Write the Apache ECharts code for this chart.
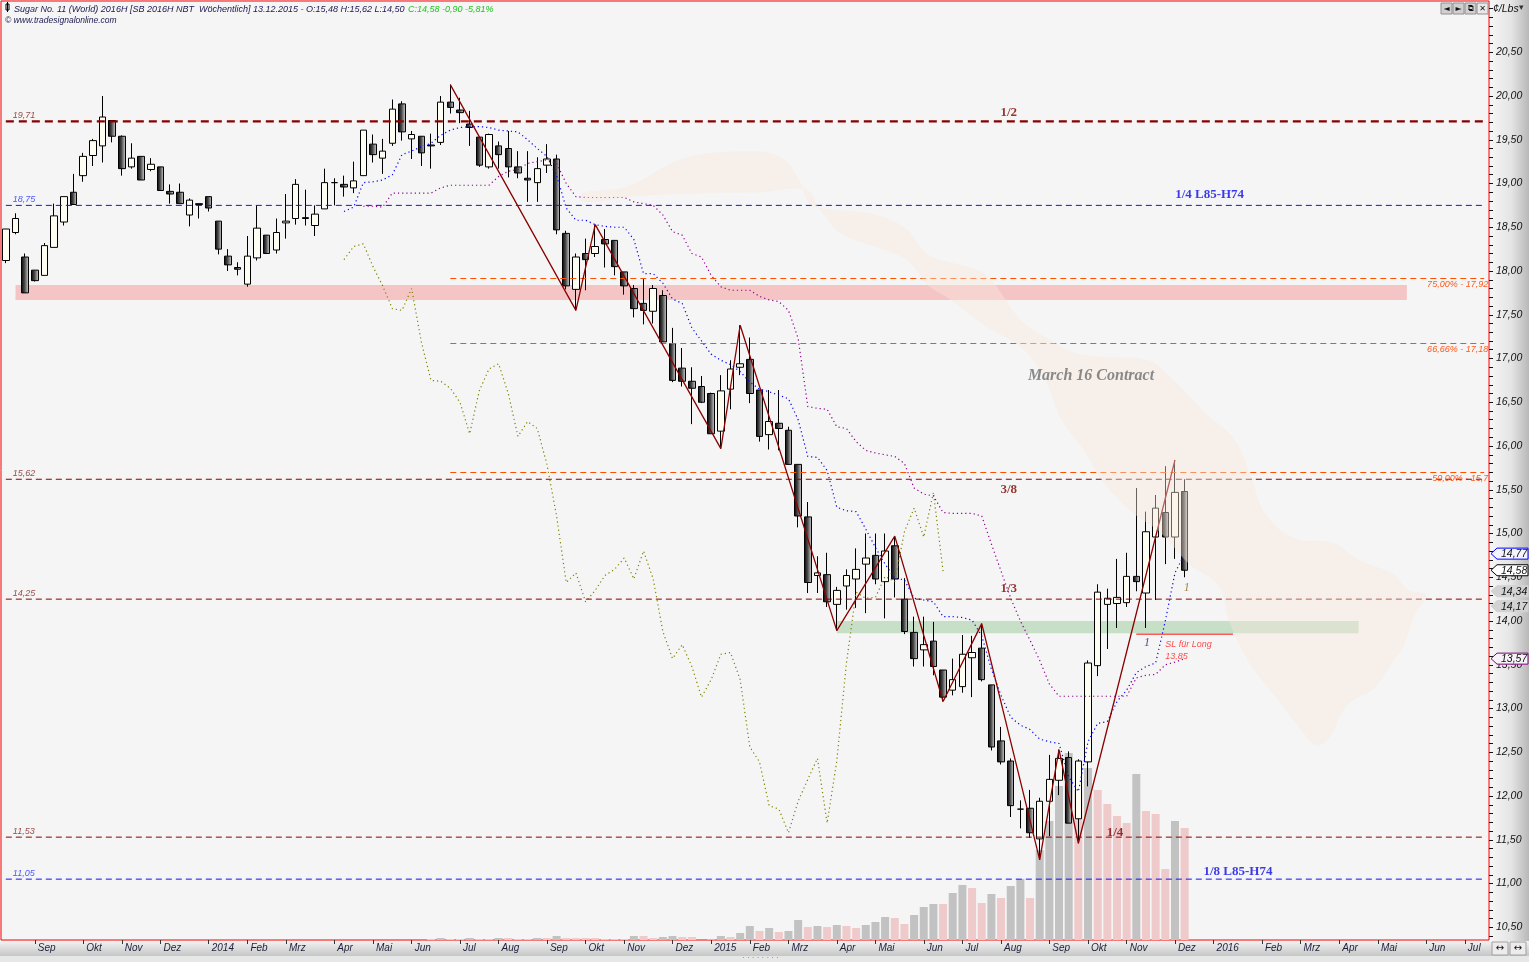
<!DOCTYPE html>
<html><head><meta charset="utf-8">
<script src="https://cdn.jsdelivr.net/npm/echarts@6/dist/echarts.min.js"></script>
<style>html,body{margin:0;padding:0;background:#f0f0f0;}#c{width:1529px;height:962px;}</style>
</head><body><div id="c"></div>
<script>
// ---------- DATA ----------
const firstWeek = '2013-08-11';       // first weekly bar (week ending Sunday)
const weekSlots = 154;                // visible weekly slots on the axis
const monthAbbr = ['Jan','Feb','Mrz','Apr','Mai','Jun','Jul','Aug','Sep','Okt','Nov','Dez'];

const opens = [18.12,18.44,18.16,18.01,17.95,18.27,18.56,18.90,19.09,19.32,19.43,19.72,19.54,19.19,19.31,19.16,19.19,18.91,18.90,18.64,18.76,18.85,18.57,18.17,18.04,17.85,18.15,18.41,18.24,18.55,18.60,18.61,18.52,18.71,19.01,18.99,18.95,19.09,19.45,19.29,19.46,19.91,19.51,19.54,19.44,19.47,19.93,19.84,19.68,19.53,19.19,19.43,19.40,19.19,19.06,19.01,19.21,19.28,18.43,17.79,18.20,18.20,18.36,18.35,17.99,17.80,17.63,17.54,17.72,17.17,16.89,16.74,16.68,16.60,16.17,16.65,16.90,16.99,16.64,16.13,16.26,16.18,15.79,15.19,14.52,14.53,14.19,14.40,14.48,14.65,14.75,14.45,14.86,14.25,13.87,13.67,13.77,13.44,13.21,13.25,13.58,13.69,13.27,12.63,12.40,11.85,11.86,11.51,11.94,12.18,12.44,11.74,12.39,13.49,14.19,14.20,14.21,14.51,14.32,14.96,15.24,14.96,15.48];
const highs = [18.48,18.66,18.20,18.01,18.32,18.77,18.85,19.11,19.35,19.51,20.00,19.72,19.55,19.46,19.31,19.29,19.19,18.99,19.00,18.83,18.77,18.85,18.57,18.25,18.10,18.40,18.75,18.41,18.60,18.88,19.05,18.93,18.75,19.17,19.06,19.09,19.25,19.61,19.56,19.51,19.96,19.94,19.60,19.54,19.57,20.00,20.13,19.98,19.83,19.53,19.57,19.48,19.60,19.37,19.37,19.30,19.45,19.33,18.46,18.20,18.37,18.53,18.48,18.35,17.99,17.84,17.92,17.84,17.78,17.35,17.12,16.90,16.80,16.61,16.81,16.98,17.38,17.24,16.64,16.64,16.64,16.22,15.79,15.36,14.74,14.78,14.39,14.59,14.83,15.00,15.00,15.00,14.97,14.49,14.05,14.05,13.99,13.44,13.57,13.84,13.83,13.97,13.27,12.79,12.43,11.95,12.07,11.98,12.47,12.53,12.51,12.42,13.55,14.42,14.37,14.71,14.78,15.52,15.25,15.44,15.77,15.84,15.62];
const lows = [18.09,18.42,17.75,17.88,17.95,18.27,18.52,18.76,19.02,19.20,19.24,19.47,19.09,19.17,19.04,19.14,18.92,18.77,18.77,18.51,18.60,18.68,18.19,18.00,17.95,17.82,18.12,18.20,18.20,18.37,18.53,18.52,18.40,18.71,18.75,18.85,18.89,19.09,19.24,19.11,19.43,19.49,19.28,19.20,19.17,19.44,19.80,19.69,19.43,19.19,19.17,19.17,19.07,19.06,18.79,18.79,19.12,18.42,17.79,17.55,17.78,18.16,18.04,17.95,17.73,17.47,17.39,17.40,17.19,16.73,16.68,16.25,16.49,16.14,15.97,16.42,16.81,16.49,16.05,15.96,15.95,15.79,15.07,14.32,14.32,14.16,13.89,14.13,14.15,14.09,14.42,14.03,14.27,13.85,13.48,13.48,13.38,13.08,13.15,13.18,13.13,13.31,12.52,12.36,11.76,11.63,11.52,11.27,11.54,12.01,11.69,11.46,12.11,13.37,13.68,13.92,14.16,14.34,13.92,14.24,14.65,14.71,14.50];
const closes = [18.48,18.60,17.75,17.89,18.29,18.63,18.85,18.76,19.31,19.49,19.76,19.54,19.17,19.29,19.04,19.22,18.92,18.88,18.77,18.81,18.77,18.72,18.25,18.07,18.02,18.17,18.49,18.20,18.44,18.57,18.99,18.60,18.65,19.01,19.01,18.96,19.03,19.61,19.33,19.37,19.85,19.59,19.56,19.35,19.43,19.93,19.87,19.81,19.64,19.21,19.56,19.33,19.19,19.12,19.04,19.17,19.28,18.47,17.83,18.16,18.13,18.28,18.31,18.05,17.83,17.57,17.55,17.80,17.19,16.75,16.74,16.66,16.50,16.14,16.63,16.88,16.94,16.60,16.11,16.28,16.20,15.79,15.20,14.44,14.55,14.22,14.35,14.52,14.59,14.72,14.48,14.80,14.48,13.88,13.57,13.73,13.48,13.13,13.33,13.62,13.64,13.33,12.56,12.39,11.89,11.85,11.58,11.94,12.19,12.43,11.69,12.40,13.52,14.33,14.26,14.27,14.51,14.45,15.02,15.29,14.96,15.47,14.58];

// volume (bar heights in chart units), starting at week index 44
const volumeStart = 44;
const volumes = [1,2,1,1,2,1,1,2,2,1,1,2,2,4,2,2,2,2,1,1,1,4,4,2,3,4,3,3,0,1,4,3,7,14,9,12,8,9,20,13,14,13,15,14,12,15,18,23,22,16,25,33,36,36,47,55,52,37,46,42,54,61,42,90,119,154,187,150,172,150,136,124,117,166,129,126,71,119,112];

// blue dotted line (fast line), from index 35
const blueStart = 35;
const blueLine = [18.68,18.73,19.01,19.02,19.04,19.10,19.33,19.37,19.42,19.46,19.55,19.61,19.64,19.65,19.65,19.64,19.61,19.60,19.59,19.50,19.40,19.31,19.09,18.72,18.58,18.58,18.53,18.51,18.50,18.50,18.36,17.97,17.97,17.86,17.68,17.63,17.35,17.20,17.05,16.98,16.93,16.85,16.73,16.65,16.62,16.58,16.54,16.30,15.88,15.87,15.72,15.30,15.26,15.25,15.05,14.84,14.65,14.49,14.47,14.26,14.24,14.22,14.05,14.05,14.04,14.01,13.83,13.45,13.15,12.90,12.81,12.76,12.65,12.62,12.60,12.22,12.05,12.62,12.83,12.85,13.08,13.21,13.41,13.48,13.52,14.00,14.55,14.77];
// purple dotted line (slow line), from index 37
const purpleStart = 37;
const purpleLine = [18.74,18.74,18.73,18.89,18.89,18.89,18.89,18.89,18.95,18.98,18.98,18.98,18.98,18.98,19.08,19.14,19.16,19.23,19.25,19.27,19.23,19.00,18.85,18.84,18.84,18.84,18.84,18.84,18.79,18.77,18.75,18.64,18.45,18.41,18.20,18.16,17.95,17.82,17.78,17.78,17.78,17.71,17.67,17.65,17.55,17.23,16.45,16.43,16.42,16.22,16.20,16.05,15.95,15.92,15.90,15.88,15.80,15.52,15.45,15.43,15.24,15.23,15.23,15.23,15.20,14.88,14.57,14.26,14.00,13.78,13.55,13.28,13.14,13.14,13.14,13.14,13.14,13.14,13.14,13.14,13.35,13.38,13.39,13.50,13.53,13.57];
// olive dotted line (lagging line), from index 35
const oliveStart = 35;
const oliveLine = [18.13,18.28,18.31,18.05,17.83,17.57,17.55,17.80,17.19,16.75,16.74,16.66,16.50,16.14,16.63,16.88,16.94,16.60,16.11,16.28,16.20,15.79,15.20,14.44,14.55,14.22,14.35,14.52,14.59,14.72,14.48,14.80,14.48,13.88,13.57,13.73,13.48,13.13,13.33,13.62,13.64,13.33,12.56,12.39,11.89,11.85,11.58,11.94,12.19,12.43,11.69,12.40,13.52,14.33,14.26,14.27,14.51,14.45,15.02,15.29,14.96,15.47,14.57];

// swing zigzag: [week index, price]
const zigzag = [[46,20.13],[59,17.55],[61,18.53],[74,15.97],[76,17.38],[86,13.89],[92,14.97],[97,13.08],[101,13.97],[107,11.27],[109,12.53],[111,11.46],[121,15.84]];

// horizontal levels across the whole chart
const levelValues = [19.71, 18.75, 15.62, 14.25, 11.53, 11.05];
const levelKinds  = ['major', 'blue', 'red', 'red', 'red', 'blue'];
// retracement levels starting at the swing high
const fibStartIndex = 46;
const fibValues = [17.92, 17.18, 15.70];
const fibLabels = ['75,00% - 17,92','66,66% - 17,18','50,00% - 15,7'];

// zones: [startIndex, endIndex, top, bottom]
const zoneStart = [1, 86];
const zoneEnd = [145, 140];
const zoneTop = [17.84, 14.00];
const zoneBottom = [17.67, 13.86];

// stop line
const stopLevel = 13.85;
const stopFrom = 117, stopTo = 127;

// text notes [text, week index, price]
const noteTexts = ['1/2','1/4 L85-H74','March 16 Contract','3/8','1/3','1/4','1/8 L85-H74','1','1','SL für Long','13,85'];
const noteIdx   = [104, 125, 112, 104, 104, 115, 127, 122, 118, 120, 120];
const notePrice = [19.81, 18.87, 16.80, 15.50, 14.37, 11.58, 11.14, 14.38, 13.75, 13.73, 13.60];

// background contract shape outline [week index, price]
const contractShape = [[59.7,18.79],[59.7,18.89],[64.2,18.96],[70.2,19.29],[77.4,19.37],[80.4,19.29],[82.2,19.02],[83.4,18.75],[89.4,18.66],[93.1,18.49],[95.4,18.19],[98.4,18.08],[101.5,17.95],[105.1,17.43],[107.5,17.25],[110.5,17.07],[113.5,17.02],[118.2,16.98],[120.6,16.78],[124.2,16.37],[127.2,16.07],[129.0,15.60],[130.2,15.25],[133.2,14.95],[137.5,14.89],[139.8,14.71],[143.5,14.54],[145.2,14.35],[147.0,14.30],[145.8,14.07],[144.6,13.70],[143.5,13.53],[141.6,13.23],[139.8,13.12],[138.6,13.01],[136.8,12.64],[135.6,12.58],[134.4,12.71],[131.5,13.12],[129.0,13.47],[127.8,13.70],[126.6,14.00],[125.5,14.41],[122.5,14.65],[119.5,15.01],[116.5,15.25],[113.5,15.60],[111.6,15.95],[109.2,16.31],[107.5,16.78],[105.1,17.13],[101.4,17.37],[97.8,17.67],[95.4,17.84],[93.1,18.14],[86.4,18.43],[84.3,18.70],[82.8,18.93],[78.1,18.90],[71.8,18.89],[65.6,18.86]];

// last-value tags on the price scale
const tagValues = [14.34, 14.17, 13.57, 14.77, 14.58];

// ---------- BUILD ----------
const categories = [];
const t0 = Date.parse(firstWeek + 'T00:00:00Z');
for (let k = 0; k < weekSlots; k++) categories.push(new Date(t0 + k * 7 * 86400000).toISOString().slice(0, 10));
const isMonthStart = (i) => +categories[i].slice(8, 10) <= 7;

const candleData = opens.map((o, i) => [o, closes[i], lows[i], highs[i]]);
const volData = volumes.map((v, k) => {
  const prev = k > 0 ? volumes[k - 1] : v;
  return { value: [volumeStart + k, v], itemStyle: { color: v > prev ? '#c2c2c2' : '#eecaca' } };
});
const seg = (start, arr) => arr.map((v, k) => [start + k, v]);
const comma = (v) => v.toFixed(2).replace('.', ',');

const FONT = 'Liberation Sans';
const SERIF = 'Liberation Serif';
const DR = '#800000';
const kindStyle = {
  major: { line: '#880000', label: '#7a1a1a', width: 2.2, dash: [8, 5] },
  red:   { line: '#880000', label: '#7a1a1a', width: 1, dash: [6, 4] },
  blue:  { line: '#1010ff', label: '#2030ff', width: 1, dash: [6, 4] }
};

const noteStyles = [
  { color: DR, fontSize: 13, fontWeight: 'bold', fontFamily: SERIF, align: 'center', offset: [-2, 0] },
  { color: '#0a0ae6', fontSize: 13, fontWeight: 'bold', fontFamily: SERIF, align: 'center', offset: [-4, 0] },
  { color: '#6e6e6e', fontSize: 16, fontWeight: 'bold', fontStyle: 'italic', fontFamily: SERIF, align: 'center', offset: [3, 0] },
  { color: DR, fontSize: 13, fontWeight: 'bold', fontFamily: SERIF, align: 'center', offset: [-2, 0] },
  { color: DR, fontSize: 13, fontWeight: 'bold', fontFamily: SERIF, align: 'center', offset: [-2, 0] },
  { color: DR, fontSize: 13, fontWeight: 'bold', fontFamily: SERIF, align: 'center', offset: [-2, 0] },
  { color: '#0a0ae6', fontSize: 13, fontWeight: 'bold', fontFamily: SERIF, align: 'center', offset: [5, 0] },
  { color: '#8a6a20', fontSize: 12, fontStyle: 'italic', fontFamily: SERIF, align: 'center', offset: [2, 0] },
  { color: '#2a2a60', fontSize: 12, fontStyle: 'italic', fontFamily: SERIF, align: 'center', offset: [1, 0] },
  { color: '#ff2020', fontSize: 9, fontStyle: 'italic', fontFamily: FONT, align: 'left', offset: [0, 0] },
  { color: '#ff2020', fontSize: 9, fontStyle: 'italic', fontFamily: FONT, align: 'left', offset: [0, 0] }
];
const noteData = noteTexts.map((t, k) => {
  const s = noteStyles[k];
  return {
    value: [noteIdx[k], notePrice[k]],
    label: { show: true, formatter: t, position: 'inside', align: s.align, verticalAlign: 'middle',
      color: s.color, fontSize: s.fontSize, fontWeight: s.fontWeight || 'normal', fontStyle: s.fontStyle || 'normal',
      fontFamily: s.fontFamily, offset: s.offset || [0, 0] }
  };
}).concat(levelValues.map((v, k) => ({
  value: [0, v],
  label: { show: true, formatter: comma(v), position: 'inside', align: 'left', verticalAlign: 'bottom', offset: [7, -1],
    color: kindStyle[levelKinds[k]].label, fontSize: 9, fontStyle: 'italic', fontFamily: FONT }
})));

const tagStyles = [
  { fill: '#d2d2d2', stroke: '#d2d2d2' },
  { fill: '#d2d2d2', stroke: '#d2d2d2' },
  { fill: '#f7f2f7', stroke: '#800080' },
  { fill: '#f4f4ff', stroke: '#0000ff' },
  { fill: '#ffffff', stroke: '#000000' }
];

const downFill = new echarts.graphic.LinearGradient(0, 0, 1, 0, [
  { offset: 0, color: '#000000' }, { offset: 0.45, color: '#4a4a4a' }, { offset: 1, color: '#dcdcdc' }
]);

// each level is drawn as its own flat line across all week slots
const levelSeriesList = levelValues.map((v, k) => {
  const s = kindStyle[levelKinds[k]];
  return { name: 'Level ' + comma(v), type: 'line', xAxisIndex: 1, yAxisIndex: 1, z: 4, silent: true,
    data: [[0, v], [weekSlots - 1, v]], showSymbol: false, color: s.line,
    lineStyle: { color: s.line, width: s.width, type: s.dash } };
});

const chart = echarts.init(document.getElementById('c'), null, { renderer: 'canvas' });
chart.setOption({
  animation: false,
  backgroundColor: '#f0f0f0',
  grid: [
    { left: 1, right: 40, top: 1, bottom: 22, show: true, backgroundColor: '#f5f5f5', borderColor: '#ff0000', borderWidth: 1 },
    { left: 1, right: 40, top: 8.5, bottom: 26 }
  ],
  xAxis: [
    { gridIndex: 0, type: 'category', data: categories, boundaryGap: true,
      axisLine: { show: false },
      axisTick: { show: true, interval: (i) => isMonthStart(i), alignWithLabel: true, length: 4, lineStyle: { color: '#333' } },
      axisLabel: { interval: (i) => isMonthStart(i), formatter: (v) => { const m = +v.slice(5, 7) - 1; return m === 0 ? v.slice(0, 4) : monthAbbr[m]; },
        align: 'left', margin: 3, padding: [0, 0, 0, 3], color: '#1e1e3c', fontSize: 10, fontStyle: 'italic', fontFamily: FONT },
      splitLine: { show: false } },
    { gridIndex: 1, type: 'category', data: categories, boundaryGap: true, show: false }
  ],
  yAxis: [
    { gridIndex: 0, type: 'value', min: 0, max: 939, show: false, splitLine: { show: false } },
    { gridIndex: 1, type: 'value', position: 'right', min: 10.4, max: 21.0, interval: 0.1,
      axisLine: { show: false },
      axisTick: { show: true, length: 4, lineStyle: { color: '#111' } },
      axisLabel: { margin: 7, color: '#111', fontSize: 10.5, fontStyle: 'italic', fontFamily: FONT,
        textShadowColor: 'rgba(70,100,255,0.45)', textShadowOffsetX: 1, textShadowOffsetY: 1,
        formatter: (v) => (Math.round(v * 100) % 50 === 0 && v < 20.9 ? comma(v) : '') },
      splitLine: { show: false } }
  ],
  series: [
    { name: 'Volume', type: 'bar', xAxisIndex: 0, yAxisIndex: 0, data: volData, barWidth: 8, z: 1, silent: true },
    { name: 'Zones', type: 'line', xAxisIndex: 1, yAxisIndex: 1, data: [], z: 2, silent: true,
      markArea: { silent: true, data: zoneStart.map((s, k) => [
        { coord: [s, zoneTop[k]], itemStyle: { color: k === 0 ? '#f5c5c5' : '#c6dfc6' } },
        { coord: [zoneEnd[k], zoneBottom[k]] }]) } },
    { name: 'Sugar', type: 'candlestick', xAxisIndex: 1, yAxisIndex: 1, data: candleData, barWidth: 7, z: 3,
      itemStyle: { color: '#fffef2', color0: downFill, borderColor: '#000', borderColor0: '#000', borderWidth: 1 } },
    { name: 'Lagging', type: 'line', xAxisIndex: 1, yAxisIndex: 1, data: seg(oliveStart, oliveLine), showSymbol: false, z: 4,
      lineStyle: { color: '#808000', width: 1.2, type: [1.2, 3] } },
    { name: 'Slow', type: 'line', xAxisIndex: 1, yAxisIndex: 1, data: seg(purpleStart, purpleLine), showSymbol: false, z: 4,
      lineStyle: { color: '#8a008a', width: 1.2, type: [1.2, 3] } },
    { name: 'Fast', type: 'line', xAxisIndex: 1, yAxisIndex: 1, data: seg(blueStart, blueLine), showSymbol: false, z: 4,
      lineStyle: { color: '#0000ff', width: 1.2, type: [1.2, 3] } },
    ...levelSeriesList,
    { name: 'Fib', type: 'line', xAxisIndex: 1, yAxisIndex: 1, data: [], z: 4, silent: true,
      markLine: { silent: true, symbol: ['none', 'none'],
        lineStyle: { color: '#ff5000', width: 1, type: [6, 4], opacity: 1 },
        label: { show: true, position: 'insideEndBottom', distance: [-4, 2], color: '#ff5a1e', fontSize: 9, fontStyle: 'italic', fontFamily: FONT },
        data: fibValues.map((v, k) => [{ coord: [fibStartIndex, v], label: { formatter: fibLabels[k] } }, { coord: [weekSlots - 1, v] }]) } },
    { name: 'Zigzag', type: 'line', xAxisIndex: 1, yAxisIndex: 1, data: zigzag, showSymbol: false, z: 5,
      lineStyle: { color: '#8b0000', width: 1.3 } },
    { name: 'Stop', type: 'line', xAxisIndex: 1, yAxisIndex: 1, data: [[stopFrom, stopLevel], [stopTo, stopLevel]], showSymbol: false, z: 5,
      lineStyle: { color: '#ff0000', width: 1 } },
    { name: 'Contract', type: 'custom', xAxisIndex: 1, yAxisIndex: 1, data: [[0, 15]], z: 6, silent: true,
      renderItem: (params, api) => {
        const bw = api.size([1, 0])[0];
        const x0 = api.coord([0, 15])[0];
        const pts = contractShape.map(p => [x0 + p[0] * bw, api.coord([0, p[1]])[1]]);
        return { type: 'polygon', shape: { points: pts, smooth: 0.35 }, style: { fill: 'rgba(249,232,220,0.42)' } };
      } },
    { name: 'Notes', type: 'scatter', xAxisIndex: 1, yAxisIndex: 1, data: noteData, symbolSize: 0, z: 7, silent: true },
    { name: 'Tags', type: 'custom', xAxisIndex: 1, yAxisIndex: 1, data: tagValues.map((v, k) => [0, v, k]), z: 10, clip: false, silent: true,
      renderItem: (params, api) => {
        const v = api.value(1), k = api.value(2);
        const y = api.coord([0, v])[1];
        const x = params.coordSys.x + params.coordSys.width + 2;
        const W = api.getWidth();
        const st = tagStyles[k];
        return { type: 'group', children: [
          { type: 'polygon', shape: { points: [[x, y], [x + 6, y - 5.5], [W - 1, y - 5.5], [W - 1, y + 5.5], [x + 6, y + 5.5]] },
            style: { fill: st.fill, stroke: st.stroke, lineWidth: 1 } },
          { type: 'text', style: { text: comma(v), x: x + 10, y: y + 0.5, verticalAlign: 'middle',
            fill: '#111', fontSize: 10.5, fontStyle: 'italic', fontFamily: FONT } }
        ] };
      } }
  ],
  graphic: [
    { type: 'rect', z: -1, silent: true, shape: { x: 1490, y: 0, width: 39, height: 941 },
      style: { fill: new echarts.graphic.LinearGradient(0, 0, 1, 0, [{ offset: 0, color: '#f6f6f6' }, { offset: 0.55, color: '#e4e4e4' }, { offset: 1, color: '#b8b8b8' }]) } },
    { type: 'rect', z: -1, silent: true, shape: { x: 0, y: 941, width: 1529, height: 15 },
      style: { fill: new echarts.graphic.LinearGradient(0, 0, 0, 1, [{ offset: 0, color: '#f2f2f2' }, { offset: 1, color: '#c6c6c6' }]) } },
    { type: 'rect', z: -1, silent: true, shape: { x: 0, y: 956, width: 1529, height: 6 }, style: { fill: '#e6e8e8' } },
    { type: 'text', silent: true, style: { text: '· · · · · · · ·', x: 742, y: 954, fill: '#8a8a8a', fontSize: 8, fontFamily: FONT } },
    // header
    { type: 'rect', silent: true, shape: { x: 6, y: 4, width: 3, height: 6 }, style: { fill: '#fff', stroke: '#000', lineWidth: 1 } },
    { type: 'line', silent: true, shape: { x1: 7.5, y1: 2, x2: 7.5, y2: 12 }, style: { stroke: '#000', lineWidth: 1 } },
    { type: 'text', silent: true, style: { x: 14, y: 3, text: '{a|Sugar No. 11 (World) 2016H [SB 2016H NBT  Wöchentlich] 13.12.2015 - O:15,48 H:15,62 L:14,50} {b|C:14,58 -0,90 -5,81%}',
      rich: { a: { fill: '#1a1a50', fontSize: 9, fontStyle: 'italic', fontFamily: FONT }, b: { fill: '#1fc21f', fontSize: 9, fontStyle: 'italic', fontFamily: FONT } } } },
    { type: 'text', silent: true, style: { x: 5, y: 16, text: '© www.tradesignalonline.com', fill: '#1a1a50', fontSize: 8.5, fontStyle: 'italic', fontFamily: FONT } },
    // top-right buttons
    ...['◄', '►', '⧉', '✕'].map((g, k) => ({ type: 'group', silent: true, children: [
      { type: 'rect', shape: { x: 1441 + k * 12, y: 3, width: 11, height: 11 }, style: { fill: k < 3 ? '#d0d0d0' : '#e8e8e8', stroke: '#909090', lineWidth: 1 } },
      { type: 'text', style: { text: g, x: 1446.5 + k * 12, y: 8.5, align: 'center', verticalAlign: 'middle', fill: '#111', fontSize: 8, fontFamily: 'DejaVu Sans' } }
    ] })),
    { type: 'text', silent: true, style: { x: 1493, y: 4, text: '¢/Lbs', fill: '#111', fontSize: 10.5, fontStyle: 'italic', fontFamily: FONT } },
    { type: 'text', silent: true, style: { x: 1519, y: 3, text: '▾', fill: '#333', fontSize: 9, fontFamily: 'DejaVu Sans' } },
    // bottom-right buttons
    ...[0, 1].map(k => ({ type: 'group', silent: true, children: [
      { type: 'rect', shape: { x: 1492 + k * 18, y: 942, width: 16, height: 13 }, style: { fill: '#ececec', stroke: '#a0a0a0', lineWidth: 1 } },
      { type: 'text', style: { text: '↔', x: 1500 + k * 18, y: 948.5, align: 'center', verticalAlign: 'middle', fill: '#111', fontSize: 10, fontFamily: 'DejaVu Sans' } }
    ] }))
  ]
});
</script>
</body></html>
